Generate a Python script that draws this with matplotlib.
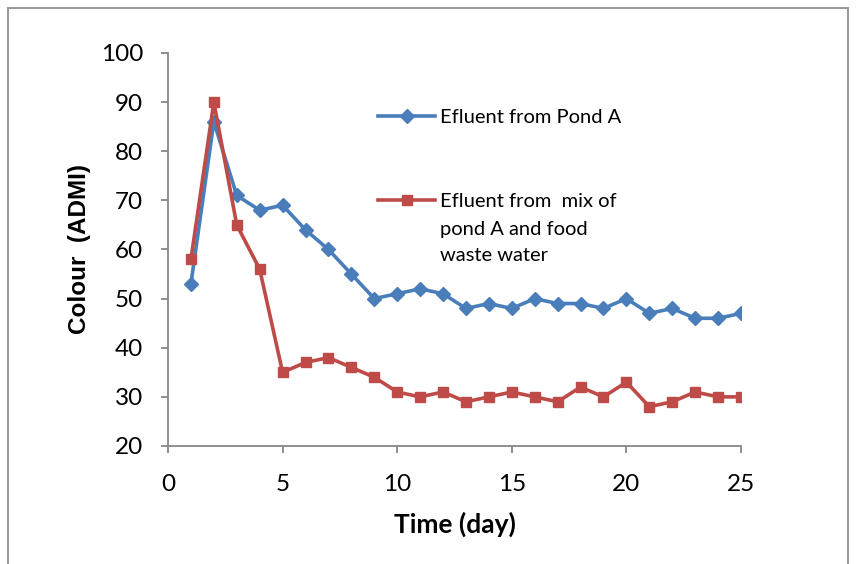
import numpy as np
import matplotlib
matplotlib.use('Agg')
import matplotlib.pyplot as plt
from matplotlib.patches import Rectangle

# data
days = list(range(1, 26))
pond_a = [53, 86, 71, 68, 69, 64, 60, 55, 50, 51, 52, 51, 48, 49, 48,
          50, 49, 49, 48, 50, 47, 48, 46, 46, 47]
mix_food = [58, 90, 65, 56, 35, 37, 38, 36, 34, 31, 30, 31, 29, 30, 31,
            30, 29, 32, 30, 33, 28, 29, 31, 30, 30]
x_ticks = [0, 5, 10, 15, 20, 25]
y_ticks = [20, 30, 40, 50, 60, 70, 80, 90, 100]

blue = '#4a7ebb'
red = '#be4b48'
grey = '#878787'

plt.rcParams['font.family'] = ['Lato', 'DejaVu Sans']

fig = plt.figure(figsize=(8.56, 5.64), dpi=100)
fig.patches.append(Rectangle((8/856, -0.01), 840/856, 1 - 8/564 + 0.01,
                             transform=fig.transFigure, fill=False,
                             edgecolor='#9a9a9a', linewidth=1.5))

ax = fig.add_axes([168/856, 1 - 446/564, 573/856, 393/564])

l1, = ax.plot(days, pond_a, color=blue, lw=2.6, marker='D', ms=7.5,
              label='Efluent from Pond A')
l2, = ax.plot(days, mix_food, color=red, lw=2.6, marker='s', ms=7,
              label='Efluent from  mix of')

ax.set_xlim(0, 25)
ax.set_ylim(20, 100)
ax.set_xticks(x_ticks)
ax.set_yticks(y_ticks)
ax.tick_params(axis='both', labelsize=17.5, color=grey, length=5, width=1.3,
               direction='out')
ax.tick_params(axis='x', pad=15)
ax.tick_params(axis='y', pad=13)
for s in ['top', 'right']:
    ax.spines[s].set_visible(False)
for s in ['left', 'bottom']:
    ax.spines[s].set_color(grey)
    ax.spines[s].set_linewidth(1.3)

ax.set_xlabel('Time (day)', fontsize=19, fontweight='bold', labelpad=12)
ax.set_ylabel('Colour  (ADMI)', fontsize=17.5, fontweight='bold',
              family=['Liberation Sans', 'DejaVu Sans'], labelpad=7)

leg_kw = dict(loc='center left', frameon=False, fontsize=14.5,
              handlelength=2.83, handletextpad=0.25, borderpad=0,
              borderaxespad=0)
leg1 = ax.legend([l1], ['Efluent from Pond A'],
                 bbox_to_anchor=(0.3665, 0.837), **leg_kw)
ax.add_artist(leg1)
ax.legend([l2], ['Efluent from  mix of'],
          bbox_to_anchor=(0.3665, 0.621), **leg_kw)
ax.text(0.4747, 0.518, 'pond A and food\nwaste water', transform=ax.transAxes,
        fontsize=14.5, va='center', ha='left', linespacing=1.6)

fig.savefig('out.png', dpi=100)
